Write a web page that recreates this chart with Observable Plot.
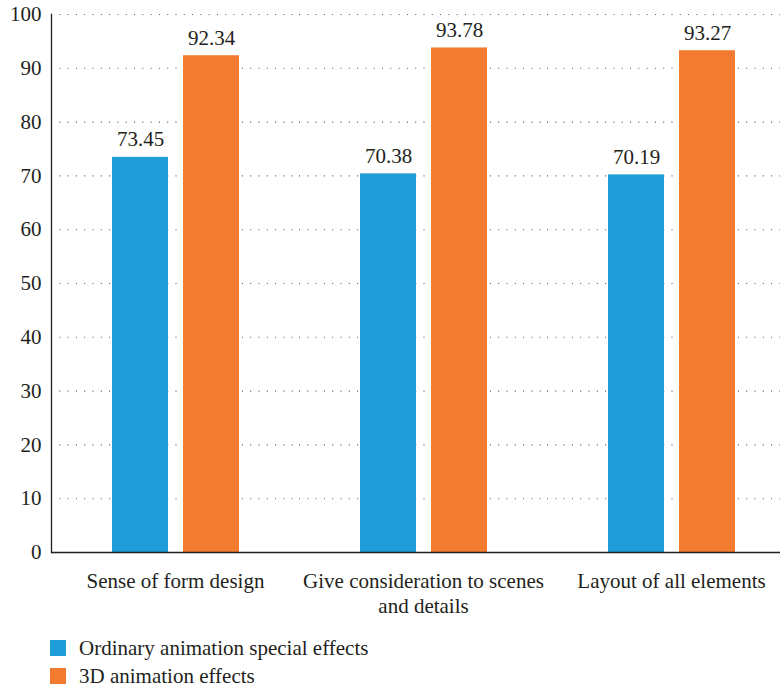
<!DOCTYPE html>
<html>
<head>
<meta charset="utf-8">
<script src="https://cdn.jsdelivr.net/npm/d3@7"></script>
<script src="https://cdn.jsdelivr.net/npm/@observablehq/plot@0.6"></script>
<style>
  html, body { margin: 0; padding: 0; background: #fff; overflow: hidden; width: 780px; }
  #chart { width: 780px; overflow: hidden; }
  #chart svg { display: block; max-width: none !important; }
  #chart svg text { font-family: "Times New Roman", serif; }
  .legend { font-family: "Times New Roman", serif; font-size: 21px; color: #231f20; margin-left: 50px; margin-top: 14px; }
  .legend .item { display: flex; align-items: center; height: 28px; }
  .legend .sw { width: 16px; height: 16px; margin-right: 13px; }
</style>
</head>
<body>
<div id="chart"></div>
<div class="legend" id="legend"></div>
<script>
const categories = ["Sense of form design", "Give consideration to scenes\nand details", "Layout of all elements"];
const series = ["Ordinary animation special effects", "3D animation effects"];
const ordinaryValues = [73.45, 70.38, 70.19];
const effects3dValues = [92.34, 93.78, 93.27];
const yTicks = [0, 10, 20, 30, 40, 50, 60, 70, 80, 90, 100];
const colors = ["#1e9dd8", "#f37b30"];

const data = [];
categories.forEach((c, i) => {
  data.push({category: c, series: series[0], value: ordinaryValues[i]});
  data.push({category: c, series: series[1], value: effects3dValues[i]});
});

const ink = "#231f20";
const serif = "Times New Roman, serif";

const chart = Plot.plot({
  width: 795,
  height: 620,
  marginLeft: 51,
  marginRight: 0,
  marginTop: 14,
  marginBottom: 68,
  style: "font-family: 'Times New Roman', serif; font-size: 21px; color: #231f20; background: #fff; max-width: none; overflow: visible;",
  fx: {domain: categories, padding: 0, label: null, axis: null},
  x: {domain: series, paddingInner: 0.2113, paddingOuter: 0.852, axis: null},
  y: {domain: [0, 100], label: null, axis: null},
  color: {domain: series, range: colors},
  marks: [
    Plot.ruleY(yTicks.slice(1), {stroke: "#555", strokeWidth: 1.1, strokeDasharray: "1,7.3"}),
    Plot.barY(data, {fx: "category", x: "series", y: "value", fill: "series"}),
    Plot.text(data, {fx: "category", x: "series", y: "value", text: d => d.value.toFixed(2), dy: -11, lineAnchor: "bottom", fill: ink, fontSize: 21, fontFamily: serif}),
    Plot.ruleY([0], {stroke: ink, strokeWidth: 1.3}),
    Plot.axisY({ticks: yTicks, tickSize: 0, tickPadding: 10, fontSize: 21, fontFamily: serif, label: null, facetAnchor: "left", anchor: "left"}),
    Plot.axisFx({anchor: "bottom", tickSize: 0, tickPadding: 18, fontSize: 21, fontFamily: serif, label: null, lineHeight: 1.19}),
    Plot.frame({anchor: "left", stroke: ink, strokeWidth: 1.3, facetAnchor: "left"})
  ]
});

document.getElementById("chart").appendChild(chart);

const legend = document.getElementById("legend");
series.forEach((s, i) => {
  const item = document.createElement("div");
  item.className = "item";
  const sw = document.createElement("div");
  sw.className = "sw";
  sw.style.background = colors[i];
  const label = document.createElement("span");
  label.textContent = s;
  item.appendChild(sw);
  item.appendChild(label);
  legend.appendChild(item);
});
</script>
</body>
</html>
